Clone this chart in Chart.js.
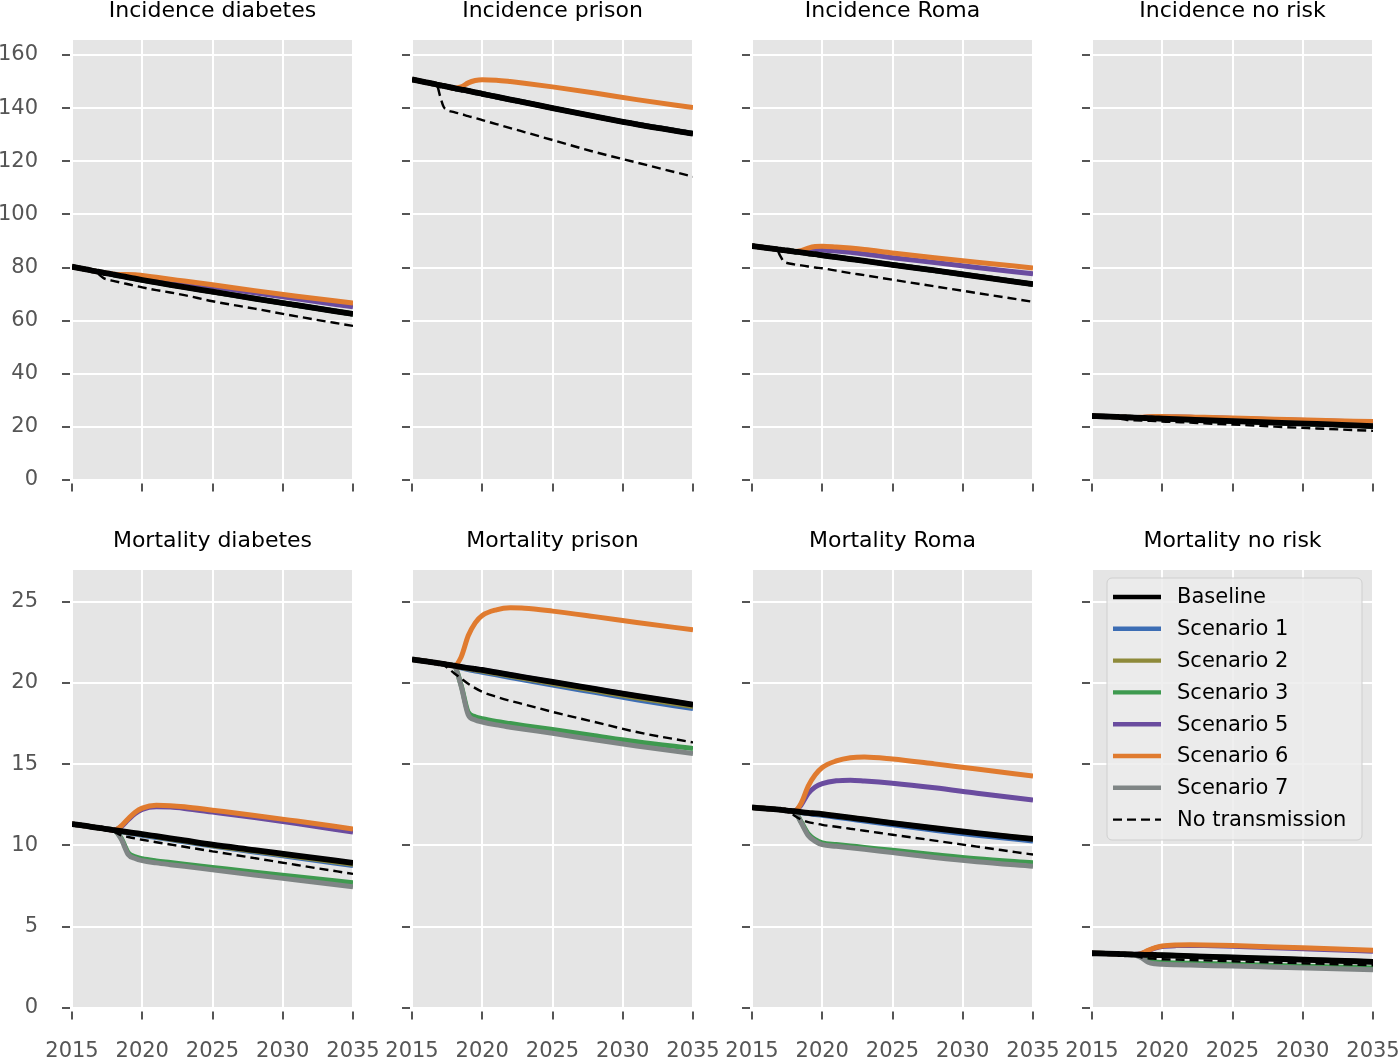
<!DOCTYPE html>
<html><head><meta charset="utf-8">
<script src="https://cdn.jsdelivr.net/npm/chart.js@4.4.1/dist/chart.umd.min.js"></script>
<style>
html,body{margin:0;padding:0;background:#fff;width:1400px;height:1058px;overflow:hidden;position:relative}
canvas{position:absolute}
</style></head><body>
<script>
// ---------- DATA ----------
const years = [2015, 2016, 2016.75, 2017, 2017.25, 2017.5, 2018, 2018.5, 2019, 2019.5, 2020, 2021, 2022, 2023, 2025, 2028, 2031, 2035];
const xTicks = [2015, 2020, 2025, 2030, 2035];
const incidenceTicks = [0, 20, 40, 60, 80, 100, 120, 140, 160];
const mortalityTicks = [0, 5, 10, 15, 20, 25];
const panelTitles = ['Incidence diabetes', 'Incidence prison', 'Incidence Roma', 'Incidence no risk',
                     'Mortality diabetes', 'Mortality prison', 'Mortality Roma', 'Mortality no risk'];
const seriesLabels = ['Baseline', 'Scenario 1', 'Scenario 2', 'Scenario 3', 'Scenario 5', 'Scenario 6', 'Scenario 7', 'No transmission'];

// Incidence diabetes
const incDiabBase = [80.3, 79.3, 78.5, 78.3, 78.0, 77.8, 77.3, 76.8, 76.3, 75.8, 75.3, 74.4, 73.5, 72.6, 70.9, 68.3, 65.8, 62.5];
const incDiabS5   = [80.3, 79.3, 78.5, 78.3, 78.0, 77.8, 77.4, 77.1, 77.0, 76.8, 76.5, 75.8, 75.0, 74.3, 72.8, 70.5, 68.2, 65.2];
const incDiabS6   = [80.3, 79.3, 78.5, 78.3, 78.0, 77.8, 77.5, 77.4, 77.4, 77.3, 77.0, 76.3, 75.6, 74.9, 73.5, 71.3, 69.2, 66.6];
const incDiabNoTx = [80.3, 79.3, 78.5, 77.0, 76.0, 75.5, 74.9, 74.3, 73.7, 73.1, 72.5, 71.5, 70.6, 69.6, 67.3, 64.5, 61.6, 58.0];
// Incidence prison
const incPrisBase = [150.8, 149.7, 148.9, 148.6, 148.4, 148.1, 147.5, 147.0, 146.5, 145.9, 145.4, 144.3, 143.2, 142.2, 140.0, 136.9, 133.9, 130.4];
const incPrisS6   = [150.8, 149.7, 148.9, 148.6, 148.4, 148.1, 147.5, 148.0, 149.5, 150.4, 150.7, 150.5, 150.0, 149.4, 148.0, 145.7, 143.2, 140.2];
const incPrisNoTx = [150.8, 149.7, 148.9, 144.5, 140.5, 139.3, 138.5, 137.8, 137.0, 136.3, 135.5, 134.0, 132.5, 131.0, 128.0, 123.5, 119.5, 114.2];
// Incidence Roma
const incRomaBase = [88.1, 87.4, 86.9, 86.7, 86.5, 86.4, 86.0, 85.7, 85.3, 85.0, 84.6, 83.9, 83.2, 82.5, 81.0, 78.9, 76.7, 73.7];
const incRomaS5   = [88.1, 87.4, 86.9, 86.7, 86.5, 86.4, 86.0, 86.1, 86.4, 86.7, 86.6, 86.2, 85.7, 85.1, 83.7, 81.9, 80.0, 77.6];
const incRomaS6   = [88.1, 87.4, 86.9, 86.7, 86.5, 86.4, 86.0, 86.3, 87.3, 87.9, 88.0, 87.7, 87.3, 86.8, 85.5, 83.7, 82.0, 79.8];
const incRomaNoTx = [88.1, 87.4, 86.9, 84.5, 82.3, 81.7, 81.2, 80.8, 80.4, 80.0, 79.7, 78.8, 77.9, 77.1, 75.4, 72.9, 70.4, 67.1];
// Incidence no risk
const incNoRiskBase = [24.1, 23.9, 23.8, 23.7, 23.7, 23.6, 23.5, 23.4, 23.3, 23.2, 23.1, 22.9, 22.7, 22.5, 22.2, 21.6, 21.1, 20.3];
const incNoRiskS5   = [24.1, 23.9, 23.8, 23.7, 23.7, 23.6, 23.5, 23.5, 23.7, 23.8, 23.8, 23.7, 23.6, 23.5, 23.2, 22.7, 22.3, 21.8];
const incNoRiskS6   = [24.1, 23.9, 23.8, 23.7, 23.7, 23.6, 23.5, 23.6, 23.8, 23.9, 23.9, 23.8, 23.7, 23.6, 23.3, 22.9, 22.5, 22.0];
const incNoRiskNoTx = [24.1, 23.9, 23.8, 23.2, 22.8, 22.6, 22.5, 22.4, 22.3, 22.2, 22.0, 21.8, 21.6, 21.3, 20.9, 20.1, 19.4, 18.5];
// Mortality diabetes
const morDiabBase = [11.32, 11.2, 11.1, 11.07, 11.04, 11.0, 10.94, 10.88, 10.82, 10.76, 10.7, 10.57, 10.44, 10.31, 10.05, 9.72, 9.38, 8.93];
const morDiabS1   = [11.32, 11.2, 11.1, 11.07, 11.04, 11.0, 10.94, 10.85, 10.77, 10.7, 10.63, 10.49, 10.36, 10.22, 9.96, 9.6, 9.25, 8.76];
const morDiabS2   = [11.32, 11.2, 11.1, 11.07, 11.04, 11.0, 10.94, 10.87, 10.8, 10.73, 10.67, 10.53, 10.4, 10.27, 10.0, 9.66, 9.31, 8.84];
const morDiabS3   = [11.32, 11.2, 11.1, 11.07, 11.04, 11.0, 10.94, 10.45, 9.55, 9.3, 9.18, 9.05, 8.95, 8.85, 8.65, 8.35, 8.07, 7.7];
const morDiabS5   = [11.32, 11.2, 11.1, 11.07, 11.04, 11.0, 10.95, 11.15, 11.58, 11.97, 12.22, 12.38, 12.36, 12.28, 12.06, 11.72, 11.35, 10.82];
const morDiabS6   = [11.32, 11.2, 11.1, 11.07, 11.04, 11.0, 10.95, 11.2, 11.65, 12.05, 12.3, 12.47, 12.45, 12.38, 12.17, 11.85, 11.5, 11.02];
const morDiabS7   = [11.32, 11.2, 11.1, 11.07, 11.04, 11.0, 10.94, 10.4, 9.45, 9.2, 9.07, 8.93, 8.82, 8.72, 8.5, 8.18, 7.88, 7.46];
const morDiabNoTx = [11.32, 11.2, 11.1, 11.07, 11.04, 11.0, 10.85, 10.62, 10.52, 10.43, 10.35, 10.2, 10.06, 9.92, 9.64, 9.22, 8.8, 8.25];
// Mortality prison
const morPrisBase = [21.45, 21.33, 21.23, 21.2, 21.17, 21.13, 21.06, 20.99, 20.92, 20.86, 20.8, 20.65, 20.5, 20.35, 20.06, 19.63, 19.2, 18.67];
const morPrisS1   = [21.45, 21.33, 21.23, 21.2, 21.17, 21.13, 21.06, 20.93, 20.82, 20.74, 20.66, 20.5, 20.34, 20.18, 19.87, 19.42, 18.97, 18.42];
const morPrisS2   = [21.45, 21.33, 21.23, 21.2, 21.17, 21.13, 21.06, 20.96, 20.87, 20.8, 20.73, 20.58, 20.43, 20.27, 19.97, 19.53, 19.09, 18.55];
const morPrisS3   = [21.45, 21.33, 21.23, 21.2, 21.17, 21.13, 21.06, 19.85, 18.2, 17.92, 17.8, 17.63, 17.5, 17.37, 17.13, 16.75, 16.38, 15.97];
const morPrisS6   = [21.45, 21.33, 21.23, 21.2, 21.17, 21.13, 21.06, 21.6, 22.9, 23.7, 24.15, 24.5, 24.62, 24.6, 24.42, 24.08, 23.72, 23.27];
const morPrisS7   = [21.45, 21.33, 21.23, 21.2, 21.17, 21.13, 21.06, 19.8, 18.05, 17.72, 17.6, 17.42, 17.28, 17.15, 16.9, 16.5, 16.12, 15.66];
const morPrisNoTx = [21.45, 21.33, 21.23, 21.2, 21.12, 20.95, 20.6, 20.28, 19.95, 19.68, 19.45, 19.15, 18.9, 18.68, 18.22, 17.6, 16.98, 16.34];
// Mortality Roma
const morRomaBase = [12.34, 12.27, 12.22, 12.2, 12.18, 12.15, 12.11, 12.05, 12.0, 11.97, 11.93, 11.82, 11.71, 11.6, 11.38, 11.06, 10.76, 10.4];
const morRomaS1   = [12.34, 12.27, 12.22, 12.2, 12.18, 12.15, 12.11, 12.03, 11.96, 11.91, 11.86, 11.74, 11.62, 11.5, 11.27, 10.94, 10.63, 10.28];
const morRomaS3   = [12.34, 12.27, 12.22, 12.2, 12.18, 12.15, 12.11, 11.45, 10.72, 10.36, 10.16, 10.06, 9.97, 9.88, 9.7, 9.43, 9.18, 8.93];
const morRomaS5   = [12.34, 12.27, 12.22, 12.2, 12.18, 12.15, 12.11, 12.5, 13.2, 13.6, 13.8, 13.98, 14.02, 13.97, 13.83, 13.55, 13.22, 12.8];
const morRomaS6   = [12.34, 12.27, 12.22, 12.2, 12.18, 12.15, 12.11, 12.6, 13.65, 14.35, 14.8, 15.2, 15.4, 15.45, 15.32, 15.02, 14.7, 14.28];
const morRomaS7   = [12.34, 12.27, 12.22, 12.2, 12.18, 12.15, 12.11, 11.4, 10.62, 10.25, 10.05, 9.95, 9.86, 9.77, 9.56, 9.26, 9.0, 8.72];
const morRomaNoTx = [12.34, 12.27, 12.22, 12.2, 12.18, 12.15, 11.85, 11.6, 11.44, 11.35, 11.27, 11.15, 11.03, 10.91, 10.66, 10.3, 9.93, 9.44];
// Mortality no risk
const morNoRiskBase = [3.37, 3.35, 3.33, 3.32, 3.31, 3.3, 3.29, 3.28, 3.27, 3.26, 3.25, 3.22, 3.19, 3.16, 3.11, 3.03, 2.95, 2.84];
const morNoRiskS3   = [3.37, 3.35, 3.33, 3.32, 3.31, 3.3, 3.29, 3.18, 2.93, 2.83, 2.8, 2.77, 2.75, 2.73, 2.69, 2.62, 2.55, 2.46];
const morNoRiskS5   = [3.37, 3.35, 3.33, 3.32, 3.31, 3.3, 3.29, 3.34, 3.52, 3.68, 3.78, 3.84, 3.85, 3.84, 3.8, 3.71, 3.62, 3.49];
const morNoRiskS6   = [3.37, 3.35, 3.33, 3.32, 3.31, 3.3, 3.29, 3.35, 3.55, 3.72, 3.82, 3.88, 3.89, 3.88, 3.84, 3.76, 3.67, 3.55];
const morNoRiskS7   = [3.37, 3.35, 3.33, 3.32, 3.31, 3.3, 3.27, 3.1, 2.82, 2.72, 2.69, 2.66, 2.64, 2.62, 2.58, 2.51, 2.44, 2.35];
const morNoRiskNoTx = [3.37, 3.35, 3.33, 3.32, 3.31, 3.3, 3.22, 3.12, 3.06, 3.03, 3.0, 2.98, 2.95, 2.93, 2.88, 2.8, 2.73, 2.63];

// Per-panel series (scenarios that coincide with baseline reuse the baseline array)
const panelSeries = [
  {base: incDiabBase, s1: incDiabBase, s2: incDiabBase, s3: incDiabBase, s5: incDiabS5, s6: incDiabS6, s7: incDiabBase, noTx: incDiabNoTx},
  {base: incPrisBase, s1: incPrisBase, s2: incPrisBase, s3: incPrisBase, s5: incPrisBase, s6: incPrisS6, s7: incPrisBase, noTx: incPrisNoTx},
  {base: incRomaBase, s1: incRomaBase, s2: incRomaBase, s3: incRomaBase, s5: incRomaS5, s6: incRomaS6, s7: incRomaBase, noTx: incRomaNoTx},
  {base: incNoRiskBase, s1: incNoRiskBase, s2: incNoRiskBase, s3: incNoRiskBase, s5: incNoRiskS5, s6: incNoRiskS6, s7: incNoRiskBase, noTx: incNoRiskNoTx},
  {base: morDiabBase, s1: morDiabS1, s2: morDiabS2, s3: morDiabS3, s5: morDiabS5, s6: morDiabS6, s7: morDiabS7, noTx: morDiabNoTx},
  {base: morPrisBase, s1: morPrisS1, s2: morPrisS2, s3: morPrisS3, s5: morPrisBase, s6: morPrisS6, s7: morPrisS7, noTx: morPrisNoTx},
  {base: morRomaBase, s1: morRomaS1, s2: morRomaBase, s3: morRomaS3, s5: morRomaS5, s6: morRomaS6, s7: morRomaS7, noTx: morRomaNoTx},
  {base: morNoRiskBase, s1: morNoRiskBase, s2: morNoRiskBase, s3: morNoRiskS3, s5: morNoRiskS5, s6: morNoRiskS6, s7: morNoRiskS7, noTx: morNoRiskNoTx}
];

// ---------- STYLE / LAYOUT ----------
const seriesKeys = ['base', 's1', 's2', 's3', 's5', 's6', 's7', 'noTx'];
const seriesColors = ['#000000', '#3C6DB4', '#8E8A3A', '#3E9A4F', '#6A4C9F', '#E07B2F', '#7F8585', '#000000'];
const seriesWidths = [5.8, 5, 5, 5, 5, 5, 5, 2.4];
const seriesOrder  = [1, 7, 6, 5, 4, 3, 2, 0];  // lower = drawn on top
const FONT = 'DejaVu Sans';
const PLOT_LEFT = [72, 412, 752, 1092];
const PLOT_W = 281;
const Y_AXIS_W = 72;
const RIGHT_PAD = 40;
const ROW = [
  {top: -2, height: 519, xAxisH: 37, max: 165.65, ticks: incidenceTicks},
  {top: 528, height: 530.3, xAxisH: 50, max: 26.95, ticks: mortalityTicks}
];

const plotBg = {
  id: 'plotBg',
  beforeDraw(chart) {
    const {ctx, chartArea: a} = chart;
    ctx.save();
    ctx.fillStyle = '#E5E5E5';
    ctx.fillRect(a.left, a.top, a.right - a.left, a.bottom - a.top);
    ctx.restore();
  }
};

const boxLegend = {
  id: 'boxLegend',
  afterDraw(chart, args, opts) {
    if (!opts.show) return;
    const {ctx, chartArea: a} = chart;
    const x0 = a.left + 15, y0 = a.top + 8, w = 255, h = 262, r = 5;
    ctx.save();
    ctx.beginPath();
    ctx.moveTo(x0 + r, y0);
    ctx.arcTo(x0 + w, y0, x0 + w, y0 + h, r);
    ctx.arcTo(x0 + w, y0 + h, x0, y0 + h, r);
    ctx.arcTo(x0, y0 + h, x0, y0, r);
    ctx.arcTo(x0, y0, x0 + w, y0, r);
    ctx.closePath();
    ctx.fillStyle = 'rgba(236,236,236,0.85)';
    ctx.fill();
    ctx.strokeStyle = '#CFCFCF';
    ctx.lineWidth = 1;
    ctx.stroke();
    const items = chart.data.datasets.slice().sort((p, q) => p.rank - q.rank);
    items.forEach((ds, i) => {
      const yy = y0 + 19 + i * 31.8;
      ctx.beginPath();
      ctx.setLineDash(ds.borderDash || []);
      ctx.strokeStyle = ds.borderColor;
      ctx.lineWidth = Math.min(ds.borderWidth, 4.4);
      ctx.moveTo(x0 + 6, yy);
      ctx.lineTo(x0 + 54, yy);
      ctx.stroke();
      ctx.setLineDash([]);
      ctx.fillStyle = '#000';
      ctx.font = '21px "' + FONT + '"';
      ctx.textBaseline = 'middle';
      ctx.textAlign = 'left';
      ctx.fillText(ds.label, x0 + 70, yy + 1);
    });
    ctx.restore();
  }
};

function makePanel(idx) {
  const col = idx % 4, row = Math.floor(idx / 4);
  const R = ROW[row];
  const w = Y_AXIS_W + PLOT_W + RIGHT_PAD;
  const cv = document.createElement('canvas');
  cv.width = w; cv.height = R.height;
  cv.style.left = (PLOT_LEFT[col] - Y_AXIS_W) + 'px';
  cv.style.top = R.top + 'px';
  cv.style.width = w + 'px'; cv.style.height = R.height + 'px';
  document.body.appendChild(cv);
  const ser = panelSeries[idx];
  const datasets = seriesKeys.map((k, i) => ({
    label: seriesLabels[i],
    rank: i,
    data: ser[k].map((v, j) => ({x: years[j], y: v})),
    borderColor: seriesColors[i],
    backgroundColor: seriesColors[i],
    borderWidth: seriesWidths[i],
    borderDash: k === 'noTx' ? [9, 5] : [],
    order: seriesOrder[i],
    pointRadius: 0,
    fill: false,
    cubicInterpolationMode: 'monotone'
  }));
  new Chart(cv, {
    type: 'line',
    data: {datasets},
    plugins: [plotBg, boxLegend],
    options: {
      responsive: false,
      animation: false,
      events: [],
      layout: {padding: {left: 0, right: RIGHT_PAD, top: 0, bottom: 0}},
      plugins: {
        legend: {display: false},
        tooltip: {enabled: false},
        title: {display: true, fullSize: false, text: panelTitles[idx], color: '#000',
                font: {family: FONT, size: 22, weight: 'normal'}, padding: {top: 0, bottom: 15.6}},
        boxLegend: {show: idx === 7}
      },
      scales: {
        x: {
          type: 'linear', min: 2015, max: 2035,
          afterFit: s => { s.height = R.xAxisH; },
          afterBuildTicks: s => { s.ticks = xTicks.map(v => ({value: v})); },
          ticks: {autoSkip: false, maxRotation: 0, minRotation: 0, padding: 0, color: '#555555',
                  font: {family: FONT, size: 21},
                  callback: v => row === 1 ? String(v) : ''},
          grid: {color: '#FFFFFF', lineWidth: 2, tickLength: 31, tickColor: '#555555', tickWidth: 2,
                 tickBorderDash: [0, 3.5, 8, 100]},
          border: {display: false}
        },
        y: {
          type: 'linear', min: 0, max: R.max,
          afterFit: s => { s.width = Y_AXIS_W; },
          afterBuildTicks: s => { s.ticks = R.ticks.map(v => ({value: v})); },
          ticks: {autoSkip: false, padding: 0, color: '#555555', font: {family: FONT, size: 21},
                  callback: v => col === 0 ? String(v) : ''},
          grid: {color: '#FFFFFF', lineWidth: 2, tickLength: 34, tickColor: '#555555', tickWidth: 2,
                 tickBorderDash: [0, 24, 8, 100]},
          border: {display: false}
        }
      }
    }
  });
}
for (let i = 0; i < 8; i++) makePanel(i);
</script>
</body></html>
